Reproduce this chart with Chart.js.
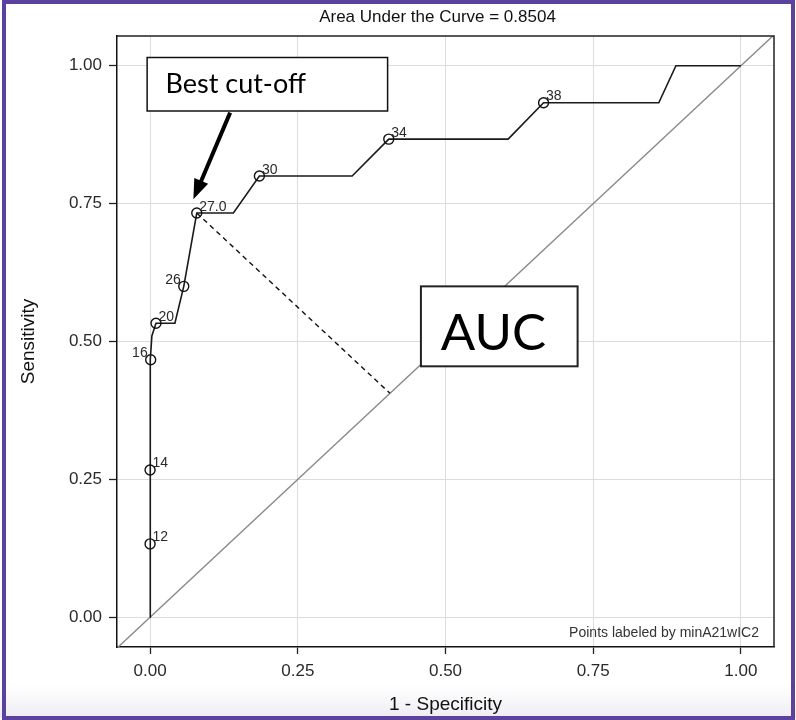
<!DOCTYPE html>
<html><head><meta charset="utf-8">
<script src="https://cdn.jsdelivr.net/npm/chart.js@4.4.1/dist/chart.umd.min.js"></script>
<style>html,body{margin:0;padding:0;background:#fff}#wrap{width:796px;height:720px;position:relative}</style>
</head><body><div id="wrap"><canvas id="c"></canvas></div>
<script>
// ---- text ----
const chartTitle = 'Area Under the Curve = 0.8504';
const xAxisTitle = '1 - Specificity';
const yAxisTitle = 'Sensitivity';
const footnote = 'Points labeled by minA21wIC2';
const calloutText = 'Best cut-off';
const aucText = 'AUC';

// ---- ticks ----
const xTickValues = [0, 0.25, 0.5, 0.75, 1];
const xTickLabels = ['0.00', '0.25', '0.50', '0.75', '1.00'];
const yTickValues = [0, 0.25, 0.5, 0.75, 1];
const yTickLabels = ['0.00', '0.25', '0.50', '0.75', '1.00'];

// ---- ROC curve (1 - specificity, sensitivity) ----
const rocFpr = [0, 0, 0, 0.001, 0.003, 0.010, 0.042, 0.057, 0.079, 0.141, 0.185, 0.342, 0.404, 0.606, 0.666, 0.861, 0.890, 1.0];
const rocTpr = [0, 0.133, 0.267, 0.467, 0.510, 0.533, 0.533, 0.600, 0.733, 0.733, 0.800, 0.800, 0.867, 0.867, 0.933, 0.933, 1.0, 1.0];

// ---- labelled cut-off points ----
const cutLabels = ['12', '14', '16', '20', '26', '27.0', '30', '34', '38'];
const cutFpr = [0, 0, 0.001, 0.010, 0.057, 0.079, 0.185, 0.404, 0.666];
const cutTpr = [0.133, 0.267, 0.467, 0.533, 0.600, 0.733, 0.800, 0.867, 0.933];
const bestCut = '27.0';

// ---- chance diagonal ----
const diagX = [-0.1, 1.1];
const diagY = [-0.1, 1.1];

// ---- layout / style (not data) ----
const leftSideLabels = ['16', '26'];
const calloutBox = { x0: -0.005, x1: 0.402, y0: 1.015, y1: 0.918, textX: 0.026, textY: 0.950 };
const arrowSpec = { x0: 0.1355, y0: 0.915, x1: 0.0733, y1: 0.758 };
const aucBox = { x0: 0.4584, x1: 0.7236, y0: 0.600, y1: 0.455, textX: 0.581, textY: 0.485 };

const bi = cutLabels.indexOf(bestCut);
const bx = cutFpr[bi], by = cutTpr[bi];
const foot = (bx + by) / 2;

const FONT = '"Liberation Sans", Arial, Helvetica, sans-serif';
Chart.defaults.font.family = FONT;

const decor = {
  id: 'decor',
  beforeDraw(chart) {
    const { ctx, width, height } = chart;
    ctx.save();
    ctx.fillStyle = '#ffffff';
    ctx.fillRect(0, 0, width, height);
    const g = ctx.createLinearGradient(0, 684, 0, 717);
    g.addColorStop(0, 'rgba(242,242,246,0)');
    g.addColorStop(1, 'rgba(236,236,242,1)');
    ctx.fillStyle = g;
    ctx.fillRect(0, 684, width, 34);
    ctx.restore();
  },
  afterDatasetsDraw(chart) {
    const { ctx, chartArea: a } = chart;
    const X = v => chart.scales.x.getPixelForValue(v);
    const Y = v => chart.scales.y.getPixelForValue(v);
    ctx.save();
    // top & right frame
    ctx.strokeStyle = '#222';
    ctx.lineWidth = 1.5;
    ctx.beginPath();
    ctx.moveTo(a.left, a.top);
    ctx.lineTo(a.right, a.top);
    ctx.lineTo(a.right, a.bottom);
    ctx.stroke();

    // point labels
    ctx.font = '14px ' + FONT;
    ctx.fillStyle = '#2a2a2a';
    ctx.textBaseline = 'alphabetic';
    cutLabels.forEach((t, i) => {
      const x = X(cutFpr[i]), y = Y(cutTpr[i]);
      if (leftSideLabels.includes(t)) { ctx.textAlign = 'right'; ctx.fillText(t, x - 3, y - 2.5); }
      else { ctx.textAlign = 'left'; ctx.fillText(t, x + 2.5, y - 2.5); }
    });

    // footnote
    ctx.font = '14px ' + FONT;
    ctx.fillStyle = '#333';
    ctx.textAlign = 'right';
    ctx.fillText(footnote, a.right - 15, a.bottom - 10);

    // title
    ctx.font = '17px ' + FONT;
    ctx.fillStyle = '#111';
    ctx.textAlign = 'center';
    ctx.fillText(chartTitle, (a.left + a.right) / 2 - 8, a.top - 14);

    // Best cut-off callout
    const c0x = X(calloutBox.x0), c1x = X(calloutBox.x1), c0y = Y(calloutBox.y0), c1y = Y(calloutBox.y1);
    ctx.fillStyle = '#fff';
    ctx.fillRect(c0x, c0y, c1x - c0x, c1y - c0y);
    ctx.strokeStyle = '#111';
    ctx.lineWidth = 1.5;
    ctx.strokeRect(c0x, c0y, c1x - c0x, c1y - c0y);
    ctx.fillStyle = '#000';
    ctx.font = '27px Lato, "Open Sans", sans-serif';
    ctx.textAlign = 'left';
    ctx.fillText(calloutText, X(calloutBox.textX), Y(calloutBox.textY));

    // arrow
    const ax0 = X(arrowSpec.x0), ay0 = Y(arrowSpec.y0), ax1 = X(arrowSpec.x1), ay1 = Y(arrowSpec.y1);
    const len = Math.hypot(ax1 - ax0, ay1 - ay0);
    const ux = (ax1 - ax0) / len, uy = (ay1 - ay0) / len;
    const hl = 20, hw = 7.5;
    ctx.strokeStyle = '#000';
    ctx.lineWidth = 4;
    ctx.beginPath();
    ctx.moveTo(ax0, ay0);
    ctx.lineTo(ax1 - ux * (hl - 2), ay1 - uy * (hl - 2));
    ctx.stroke();
    ctx.fillStyle = '#000';
    ctx.beginPath();
    ctx.moveTo(ax1, ay1);
    ctx.lineTo(ax1 - ux * hl - uy * hw, ay1 - uy * hl + ux * hw);
    ctx.lineTo(ax1 - ux * hl + uy * hw, ay1 - uy * hl - ux * hw);
    ctx.closePath();
    ctx.fill();

    // AUC box
    const b0x = X(aucBox.x0), b1x = X(aucBox.x1), b0y = Y(aucBox.y0), b1y = Y(aucBox.y1);
    ctx.fillStyle = '#fff';
    ctx.fillRect(b0x, b0y, b1x - b0x, b1y - b0y);
    ctx.strokeStyle = '#222';
    ctx.lineWidth = 2;
    ctx.strokeRect(b0x, b0y, b1x - b0x, b1y - b0y);
    ctx.fillStyle = '#000';
    ctx.font = '51px Lato, "Open Sans", sans-serif';
    ctx.textAlign = 'center';
    ctx.fillText(aucText, X(aucBox.textX), Y(aucBox.textY));
    ctx.restore();
  },
  afterDraw(chart) {
    const { ctx } = chart;
    ctx.save();
    ctx.strokeStyle = '#5c429f';
    ctx.lineWidth = 4;
    ctx.strokeRect(4, 2, 789, 716);
    ctx.restore();
  }
};

const toPts = (xs, ys) => xs.map((x, i) => ({ x: x, y: ys[i] }));

new Chart(document.getElementById('c'), {
  type: 'scatter',
  data: {
    datasets: [
      {
        label: 'cut-offs',
        data: toPts(cutFpr, cutTpr),
        showLine: false,
        pointStyle: 'circle',
        pointRadius: 5,
        pointBackgroundColor: 'rgba(0,0,0,0)',
        pointBorderColor: '#111',
        pointBorderWidth: 1.4
      },
      {
        label: 'ROC',
        data: toPts(rocFpr, rocTpr),
        showLine: true,
        borderColor: '#1a1a1a',
        borderWidth: 1.6,
        pointRadius: 0,
        tension: 0
      },
      {
        label: 'distance',
        data: [{ x: bx, y: by }, { x: foot, y: foot }],
        showLine: true,
        borderColor: '#111',
        borderWidth: 1.4,
        borderDash: [5, 4],
        pointRadius: 0
      },
      {
        label: 'chance',
        data: toPts(diagX, diagY),
        showLine: true,
        borderColor: '#8a8a8a',
        borderWidth: 1.4,
        pointRadius: 0
      }
    ]
  },
  options: {
    responsive: true,
    maintainAspectRatio: false,
    animation: false,
    events: [],
    layout: { padding: { top: 36, right: 22, left: 0, bottom: 0 } },
    plugins: { legend: { display: false }, tooltip: { enabled: false }, title: { display: false } },
    scales: {
      x: {
        type: 'linear',
        min: -0.056, max: 1.056,
        afterFit(s) { s.height = 73; },
        afterBuildTicks(s) { s.ticks = xTickValues.map(v => ({ value: v })); },
        ticks: {
          callback: (v) => xTickLabels[xTickValues.indexOf(v)],
          font: { size: 17 }, color: '#2a2a2a', padding: 7, maxRotation: 0, autoSkip: false
        },
        grid: { color: '#dcdcdc', lineWidth: 1, tickLength: 7, tickColor: '#222', tickWidth: 1.3 },
        border: { display: true, color: '#111', width: 1.5 },
        title: { display: true, text: xAxisTitle, font: { size: 19 }, color: '#111', padding: { top: 0, bottom: 4 } }
      },
      y: {
        type: 'linear',
        min: -0.054, max: 1.054,
        afterFit(s) { s.width = 117; },
        afterBuildTicks(s) { s.ticks = yTickValues.map(v => ({ value: v })); },
        ticks: {
          callback: (v) => yTickLabels[yTickValues.indexOf(v)],
          font: { size: 17 }, color: '#2a2a2a', padding: 7, autoSkip: false
        },
        grid: { color: '#dcdcdc', lineWidth: 1, tickLength: 8, tickColor: '#222', tickWidth: 1.3 },
        border: { display: true, color: '#111', width: 1.5 },
        title: { display: true, text: yAxisTitle, font: { size: 19 }, color: '#111', padding: { top: 17, bottom: 0 } }
      }
    }
  },
  plugins: [decor]
});
</script>
</body></html>
